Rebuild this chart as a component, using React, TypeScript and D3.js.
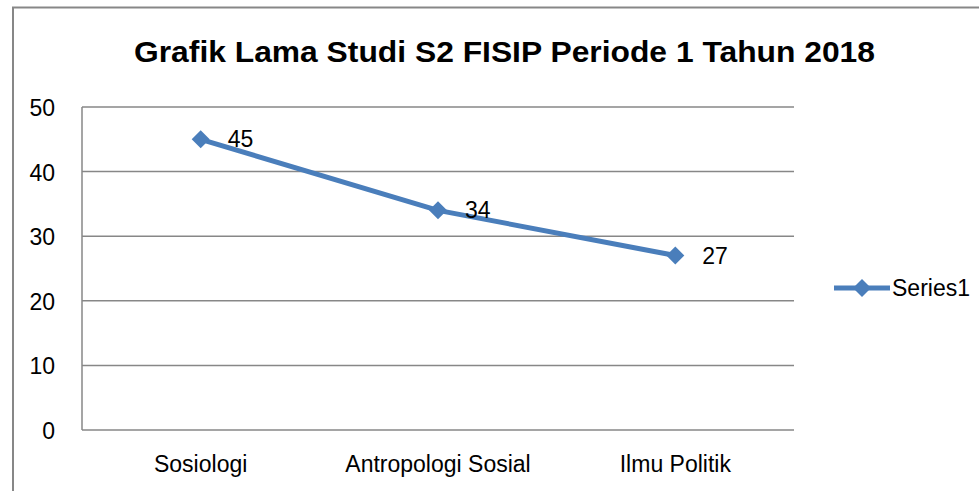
import React from 'react';
import * as d3 from 'd3';

const categories = ['Sosiologi', 'Antropologi Sosial', 'Ilmu Politik'];
const series1 = [45, 34, 27];
const yTicks = [0, 10, 20, 30, 40, 50];
const seriesName = 'Series1';
const title = 'Grafik Lama Studi S2 FISIP Periode 1 Tahun 2018';

const W = 979;
const H = 491;
const plot = { left: 82, right: 794, top: 107, bottom: 430 };
const font = '"Liberation Sans", Arial, sans-serif';
const blue = '#4a7ebb';

function Diamond({ x, y, r }: { x: number; y: number; r: number }) {
  return <path d={`M${x},${y - r}L${x + r},${y}L${x},${y + r}L${x - r},${y}Z`} fill={blue} />;
}

export default function App() {
  const x = d3.scaleBand().domain(categories).range([plot.left, plot.right]);
  const y = d3.scaleLinear().domain([0, 50]).range([plot.bottom, plot.top]);
  const cx = (c: string) => (x(c) ?? 0) + x.bandwidth() / 2;

  const line = d3.line<number>()
    .x((_, i) => cx(categories[i]))
    .y(d => y(d));

  return (
    <svg width={W} height={H} style={{ position: 'absolute', left: 0, top: 0, background: '#fff' }}>
      <rect x={13} y={7.5} width={W + 20} height={H + 20} fill="#fff" stroke="#878787" strokeWidth={2} />
      <text x={134} y={62} textLength={741} lengthAdjust="spacingAndGlyphs" fontFamily={font} fontWeight="bold" fontSize={30} fill="#000">
        {title}
      </text>

      {yTicks.map(t => (
        <g key={t}>
          <line x1={plot.left} x2={plot.right} y1={y(t)} y2={y(t)} stroke="#878787" strokeWidth={1.5} />
          <text x={55} y={y(t) + 9} textAnchor="end" fontFamily={font} fontSize={23} fill="#000">{t}</text>
        </g>
      ))}
      <line x1={plot.left} x2={plot.left} y1={plot.top} y2={plot.bottom} stroke="#878787" strokeWidth={1.5} />

      {categories.map(c => (
        <text key={c} x={cx(c)} y={472} textAnchor="middle" fontFamily={font} fontSize={23} fill="#000">{c}</text>
      ))}

      <path d={line(series1) ?? ''} fill="none" stroke={blue} strokeWidth={5} strokeLinejoin="round" />
      {series1.map((v, i) => (
        <g key={i}>
          <Diamond x={cx(categories[i])} y={y(v)} r={9} />
          <text x={cx(categories[i]) + 27} y={y(v) + 8} fontFamily={font} fontSize={23} fill="#000">{v}</text>
        </g>
      ))}

      <line x1={834} x2={890} y1={288} y2={288} stroke={blue} strokeWidth={5} />
      <Diamond x={862} y={288} r={9} />
      <text x={892} y={296} fontFamily={font} fontSize={23} fill="#000">{seriesName}</text>
    </svg>
  );
}
